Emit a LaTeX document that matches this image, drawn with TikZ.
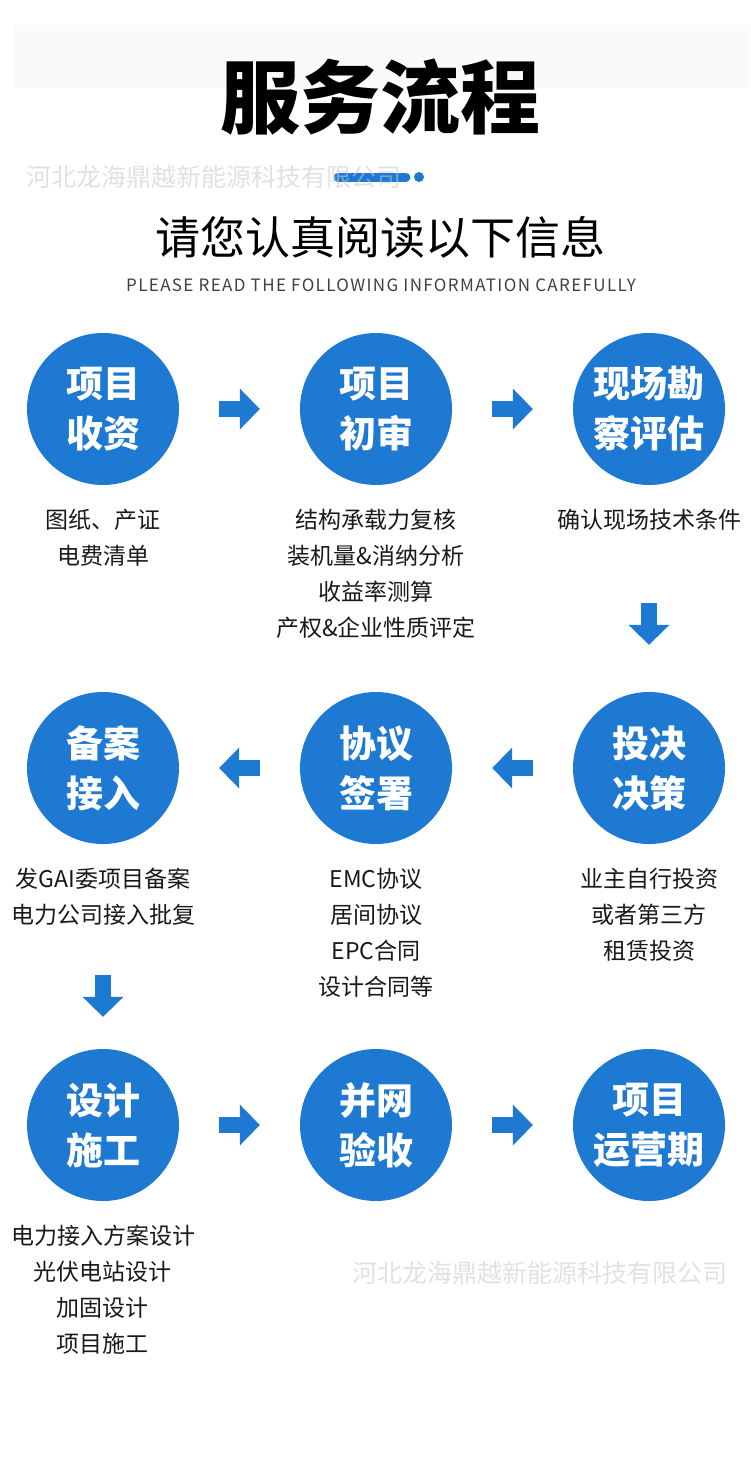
\documentclass[tikz,border=0pt]{standalone}
\usepackage{fontspec}
\setmainfont{Noto Sans CJK SC}
\newfontfamily\ensans[LetterSpace=8]{Noto Sans CJK SC}
\usepackage{xcolor}
\usepackage{tikz}
\usetikzlibrary{arrows.meta,calc,positioning}

\definecolor{flowblue}{RGB}{30,121,210}
\definecolor{wmgray}{RGB}{200,200,200}
\definecolor{bandgray}{RGB}{250,250,250}

\tikzset{
	step_circ/.style={circle, fill=flowblue, minimum size=152pt, inner sep=0pt, text=white, align=center, font=\fontsize{37}{50}\selectfont\bfseries},
	step_desc/.style={align=center, anchor=north, inner sep=0pt, text=black!90, font=\fontsize{23}{36}\selectfont},
	block_arrow/.style={draw=flowblue, line width=16pt, -{Triangle[length=20pt,width=41pt,line width=0pt]}, shorten <=40pt, shorten >=40pt},
	watermark/.style={text=wmgray, text opacity=0.55, font=\fontsize{25}{25}\selectfont}
}

\begin{document}
\begin{tikzpicture} [x=1pt, y=1pt, node distance=273pt]
	 	
	 	\useasboundingbox (0,0) rectangle (750,-1470);
	 	
	 	\fill [bandgray] (14,-25) rectangle (750,-88);
	 	
	 	\node (title) at (380,-97) {\fontsize{80}{80}\selectfont\bfseries 服务流程};
	 	
	 	\coordinate (bar_left) at (338,-177);
	 	
	 	\coordinate (bar_right) at (406,-177);
	 	
	 	\draw [flowblue, line width=9pt, line cap=round] (bar_left) -- (bar_right);
	 	
	 	\fill [flowblue] ($(bar_right) + (13,0)$) circle (5pt);
	 	
	 	\node (wm_top) [watermark] at (214,-177) {河北龙海鼎越新能源科技有限公司};
	 	
	 	\node (subtitle) [below=140pt of title.center, anchor=center] {\fontsize{45}{45}\selectfont 请您认真阅读以下信息};
	 	
	 	\node (subtitle_en) at (381,-285) {\ensans\fontsize{17}{17}\selectfont\color{black!75}PLEASE READ THE FOLLOWING INFORMATION CAREFULLY};
	 	
	 	
	 	\begin{scope}
	 	
	 	\node (c_1) [step_circ] at (103,-409) {项目\\收资};
	 	
	 	\node (c_2) [step_circ, right of= c_1] {项目\\初审};
	 	
	 	\node (c_3) [step_circ, right of= c_2] {现场勘\\察评估};
	 	
	 	\node (d_1) [step_desc] at ($(c_1) + (0,-100)$) {图纸、产证\\电费清单};
	 	
	 	\node (d_2) [step_desc] at ($(c_2) + (0,-100)$) {结构承载力复核\\装机量\&消纳分析\\收益率测算\\产权\&企业性质评定};
	 	
	 	\node (d_3) [step_desc] at ($(c_3) + (0,-100)$) {确认现场技术条件};
	 	
	 	
	 	\draw [block_arrow] (c_1) to (c_2);
	 	
	 	\draw [block_arrow] (c_2) to (c_3);
	 	
	 	\end{scope}
	 	
	 	
	 	\begin{scope}[yshift=-359pt]
	 	
	 	\node (c_4) [step_circ] at (103,-409) {备案\\接入};
	 	
	 	\node (c_5) [step_circ, right of= c_4] {协议\\签署};
	 	
	 	\node (c_6) [step_circ, right of= c_5] {投决\\决策};
	 	
	 	\node (d_4) [step_desc] at ($(c_4) + (0,-100)$) {发GAI委项目备案\\电力公司接入批复};
	 	
	 	\node (d_5) [step_desc] at ($(c_5) + (0,-100)$) {EMC协议\\居间协议\\EPC合同\\设计合同等};
	 	
	 	\node (d_6) [step_desc] at ($(c_6) + (0,-100)$) {业主自行投资\\或者第三方\\租赁投资};
	 	
	 	
	 	\draw [block_arrow, shorten <=118pt, shorten >=47pt] (c_3) to (c_6);
	 	
	 	\draw [block_arrow] (c_6) to (c_5);
	 	
	 	\draw [block_arrow] (c_5) to (c_4);
	 	
	 	\end{scope}
	 	
	 	
	 	\begin{scope}[yshift=-716pt]
	 	
	 	\node (c_7) [step_circ] at (103,-409) {设计\\施工};
	 	
	 	\node (c_8) [step_circ, right of= c_7] {并网\\验收};
	 	
	 	\node (c_9) [step_circ, right of= c_8] {项目\\运营期};
	 	
	 	\node (d_7) [step_desc] at ($(c_7) + (0,-100)$) {电力接入方案设计\\光伏电站设计\\加固设计\\项目施工};
	 	
	 	
	 	\draw [block_arrow, shorten <=131pt, shorten >=32pt] (c_4) to (c_7);
	 	
	 	\draw [block_arrow] (c_7) to (c_8);
	 	
	 	\draw [block_arrow] (c_8) to (c_9);
	 	
	 	\end{scope}
	 	
	 	
	 	\node (wm_bottom) [watermark] at (540,-1273) {河北龙海鼎越新能源科技有限公司};
	 	
\end{tikzpicture}
\end{document}
